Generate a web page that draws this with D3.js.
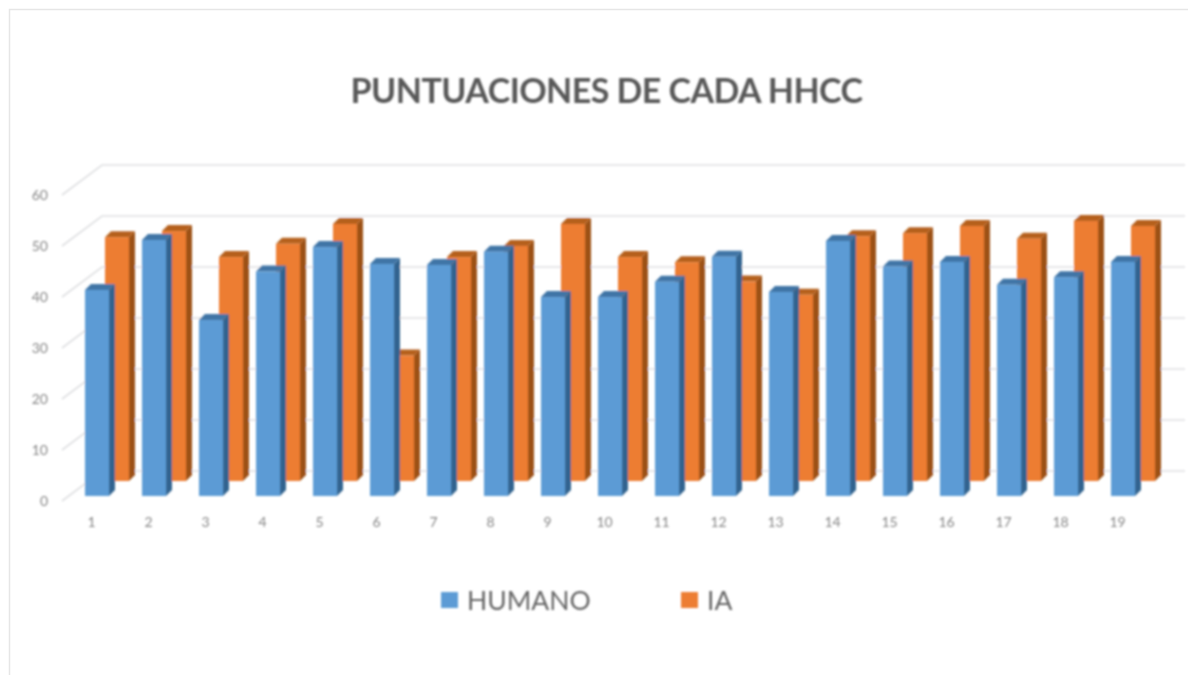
<!DOCTYPE html>
<html>
<head>
<meta charset="utf-8">
<script src="https://cdn.jsdelivr.net/npm/d3@7"></script>
<style>
html, body { margin: 0; padding: 0; background: #fff; }
svg { display: block; }
text { font-family: Lato, "Open Sans", sans-serif; }
</style>
</head>
<body>
<div id="chart"></div>
<script>
var categories = ['1','2','3','4','5','6','7','8','9','10','11','12','13','14','15','16','17','18','19'];
var humano = [40.4,50.2,34.5,44,48.8,45.5,45.3,47.9,39,39,42,46.9,40,50,45,45.9,41.4,42.9,45.9];
var ia = [47.8,49,43.9,46.5,50.4,24.6,43.9,46.1,50.4,43.9,42.9,39.1,36.5,48,48.6,50,47.5,51,50];
var yTicks = [0,10,20,30,40,50,60];

var width = 1188, height = 675;

var svg = d3.select('#chart').append('svg')
	.attr('width', width)
	.attr('height', height);

var defs = svg.append('defs');
defs.append('filter').attr('id', 'soft')
	.attr('x', 0).attr('y', 0).attr('width', 1).attr('height', 1)
	.attr('filterUnits', 'userSpaceOnUse')
	.attr('width', width).attr('height', height)
	.append('feGaussianBlur').attr('stdDeviation', 0.9);

// picture frame
svg.append('path')
	.attr('d', 'M9.5,675V9.5H1188')
	.attr('fill', 'none')
	.attr('stroke', '#e6e6e6')
	.attr('stroke-width', 1.5);

var g = svg.append('g').attr('filter', 'url(#soft)');

var y = d3.scaleLinear().domain([0, 60]).range([501, 195]);
var xBars = d3.scalePoint().domain(categories).range([85, 1111]);
var xLabels = d3.scalePoint().domain(categories).range([91, 1117]);

// wall offset of the fake 3d box
var wallDx = 40, wallDy = -30, frontX = 62, rightX = 1185;

// grid lines, side wall + back wall
var grid = g.append('g');
yTicks.forEach(function(t) {
	grid.append('path')
		.attr('d', 'M' + frontX + ',' + y(t) + 'L' + (frontX + wallDx) + ',' + (y(t) + wallDy) + 'H' + rightX)
		.attr('fill', 'none')
		.attr('stroke', '#dfe0e2')
		.attr('stroke-width', 1.6);
});

// draws one series of 3d bars
function drawBars(values, name, offsetX, baseShift, colors) {
	var barW = 24, depthX = 6, depthY = -6;
	var series = g.append('g').attr('class', name);

	var bars = series.selectAll('g').data(values).enter().append('g');

	bars.append('path')
		.attr('fill', colors.side)
		.attr('d', function(d, i) {
			var x1 = xBars(categories[i]) + offsetX + barW;
			var top = y(d) - baseShift;
			var bottom = y(0) - baseShift;
			return 'M' + x1 + ',' + top + 'l' + depthX + ',' + depthY + 'V' + (bottom + depthY) + 'l' + (-depthX) + ',' + (-depthY) + 'Z';
		});

	bars.append('path')
		.attr('fill', colors.top)
		.attr('d', function(d, i) {
			var x0 = xBars(categories[i]) + offsetX;
			var top = y(d) - baseShift;
			return 'M' + x0 + ',' + top + 'l' + depthX + ',' + depthY + 'h' + barW + 'l' + (-depthX) + ',' + (-depthY) + 'Z';
		});

	bars.append('rect')
		.attr('fill', colors.front)
		.attr('x', function(d, i) { return xBars(categories[i]) + offsetX; })
		.attr('y', function(d) { return y(d) - baseShift; })
		.attr('width', barW)
		.attr('height', function(d) { return y(0) - y(d); });
}

drawBars(ia, 'ia', 20, 20, {front: '#ed7d31', side: '#9c5118', top: '#b5601f'});
drawBars(humano, 'humano', 0, 5, {front: '#5b9bd5', side: '#33648f', top: '#3f75a6'});

// axes
var yAxis = g.append('g')
	.attr('transform', 'translate(48,0)')
	.call(d3.axisLeft(y).tickValues(yTicks).tickSize(0).tickPadding(0));
var xAxis = g.append('g')
	.attr('transform', 'translate(0,517)')
	.call(d3.axisBottom(xLabels).tickSize(0).tickPadding(0));

yAxis.select('.domain').remove();
xAxis.select('.domain').remove();
g.selectAll('.tick text')
	.attr('fill', '#868686')
	.style('font-family', 'Lato, "Open Sans", sans-serif')
	.style('font-size', '14px');

// title
g.append('text')
	.attr('x', 606.5)
	.attr('y', 103)
	.attr('text-anchor', 'middle')
	.attr('fill', '#595959')
	.style('font-size', '34px')
	.style('font-weight', 'bold')
	.style('letter-spacing', '-0.55px')
	.text('PUNTUACIONES DE CADA HHCC');

// legend
var legendItems = [
	{label: 'HUMANO', color: '#5b9bd5', x: 441},
	{label: 'IA', color: '#ed7d31', x: 681}
];
legendItems.forEach(function(item) {
	g.append('rect')
		.attr('x', item.x)
		.attr('y', 592)
		.attr('width', 17)
		.attr('height', 16)
		.attr('fill', item.color);
	g.append('text')
		.attr('x', item.x + 26)
		.attr('y', 610)
		.attr('fill', '#666666')
		.style('font-size', '26.5px')
		.text(item.label);
});
</script>
</body>
</html>
